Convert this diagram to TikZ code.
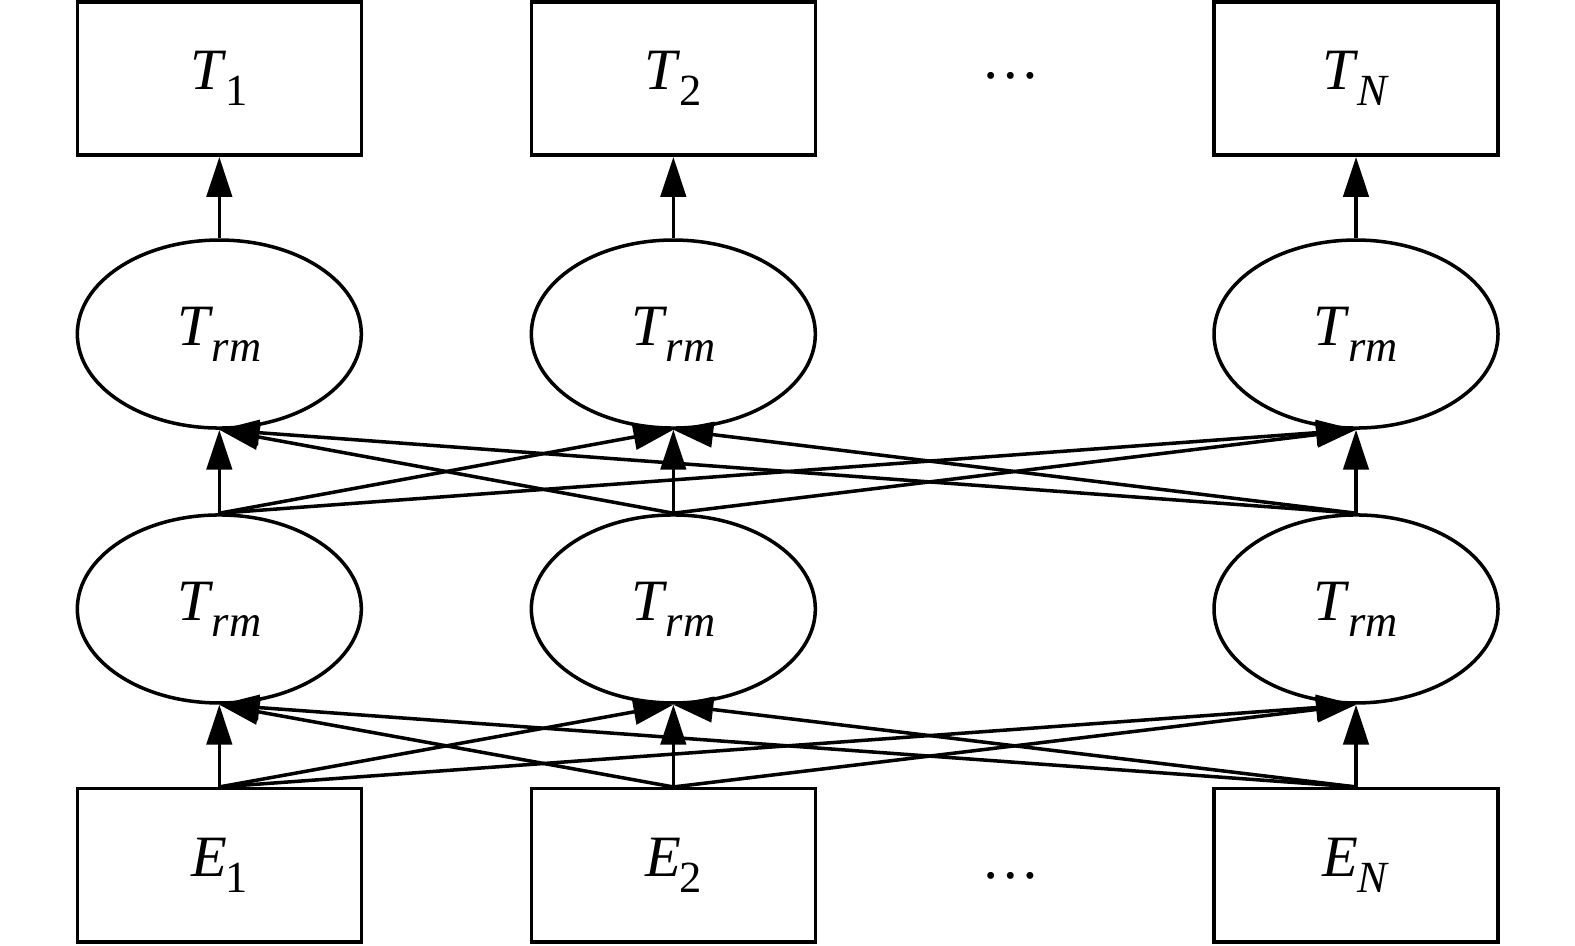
\documentclass[tikz,border=0pt]{standalone}
\usepackage{fontspec}
\setmainfont{Liberation Serif}
\usetikzlibrary{arrows.meta,shapes.geometric}
\newcommand{\lbl}[2]{\textit{#1}\kern-.3pt\raisebox{-0.6ex}{\fontsize{9.5}{10}\selectfont #2}}
\tikzset{
  box/.style={draw,line width=.75pt,minimum width=2.13cm,minimum height=1.15cm,inner sep=0pt,font=\fontsize{12.5}{14}\selectfont},
  trm/.style={draw,ellipse,line width=.75pt,minimum width=2.13cm,minimum height=1.41cm,inner sep=0pt,font=\fontsize{12.5}{14}\selectfont},
  conn/.style={line width=.75pt,-{Triangle[length=8.5pt,width=5.4pt]}}
}
\begin{document}
\begin{tikzpicture}
\useasboundingbox (0,0) rectangle (11.8125,-7.0875);
\node[box] (T1) at (1.645,-0.589) {\lbl{T}{1}};
\node[box] (T2) at (5.05,-0.589) {\lbl{T}{2}};
\node[box] (TN) at (10.17,-0.589) {\lbl{T}{\textit{N}}};
\node[trm] (U1) at (1.645,-2.505) {\lbl{T}{\textit{rm}}};
\node[trm] (U2) at (5.05,-2.505) {\lbl{T}{\textit{rm}}};
\node[trm] (UN) at (10.17,-2.505) {\lbl{T}{\textit{rm}}};
\node[trm] (L1) at (1.645,-4.567) {\lbl{T}{\textit{rm}}};
\node[trm] (L2) at (5.05,-4.567) {\lbl{T}{\textit{rm}}};
\node[trm] (LN) at (10.17,-4.567) {\lbl{T}{\textit{rm}}};
\node[box] (E1) at (1.645,-6.49) {\lbl{E}{1}};
\node[box] (E2) at (5.05,-6.49) {\lbl{E}{2}};
\node[box] (EN) at (10.17,-6.49) {\lbl{E}{\textit{N}}};
\node[font=\fontsize{12.5}{14}\selectfont] (dtop) at (7.58,-0.57) {\dots};
\node[font=\fontsize{12.5}{14}\selectfont] (dbot) at (7.58,-6.57) {\dots};
\draw[conn] (U1) -- (T1);
\draw[conn] (U2) -- (T2);
\draw[conn] (UN) -- (TN);
\foreach \s in {1,2,N}
  \foreach \t in {1,2,N} {
    \draw[conn] (L\s.north) -- (U\t.south);
    \draw[conn] (E\s.north) -- (L\t.south);
  }
\end{tikzpicture}
\end{document}
